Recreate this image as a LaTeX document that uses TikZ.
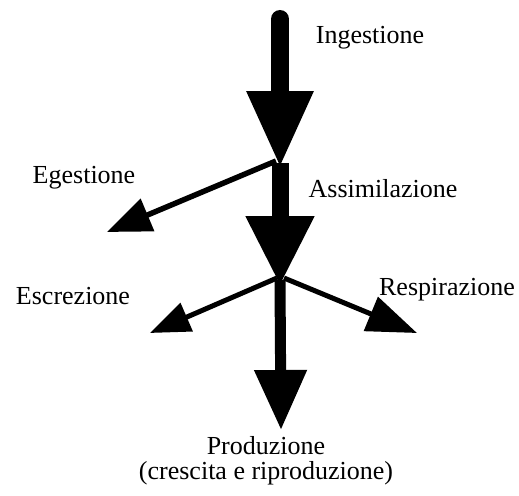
\documentclass[tikz,border=0pt]{standalone}
\usepackage{fontspec}
\setmainfont{Liberation Serif}
\usetikzlibrary{arrows.meta}
\tikzset{
  label/.style={font=\fontsize{26}{25}\selectfont, inner sep=0pt},
  mainflow/.style={draw=black, -{Triangle[length=#1]}},
  sideflow/.style={draw=black, line width=5.5pt, -{Triangle[length=44pt, width=34pt]}}
}
\begin{document}
\begin{tikzpicture}[x=1pt, y=-1pt]
  \useasboundingbox (0,0) rectangle (519,495);

  % branch points
  \coordinate (in) at (280,19);
  \coordinate (j1) at (280,163);
  \coordinate (j2) at (280,280);
  \coordinate (egtip) at (107,232);
  \coordinate (estip) at (150,333);
  \coordinate (retip) at (417,333);
  \coordinate (prtip) at (281,430);

  \node[label] (ing) at (370,38) {Ingestione};
  \node[label] (ass) at (383,189) {Assimilazione};
  \node[label] (ege) at (84,178) {Egestione};
  \node[label] (esc) at (73,296) {Escrezione};
  \node[label] (res) at (447,290) {Respirazione};
  \node[label, align=center] (pro) at (266,461) {Produzione\\(crescita e riproduzione)};

  \draw[mainflow={77pt, width=62pt}, line width=18pt, line cap=round] (in) -- ([yshift=-5pt]j1);
  \draw[mainflow={70pt, width=64pt}, line width=17pt] (j1) -- ([yshift=-6pt]j2);
  \draw[mainflow={60pt, width=50pt}, line width=11pt] (j2) -- (prtip);

  \draw[sideflow] ([xshift=-4pt, yshift=2pt]j1) -- (egtip);
  \draw[sideflow, line width=5pt, -{Triangle[length=40pt, width=30pt]}] ([xshift=-3pt, yshift=2pt]j2) -- (estip);
  \draw[sideflow, line width=5pt, -{Triangle[length=50pt, width=36pt]}] ([xshift=4pt, yshift=2pt]j2) -- (retip);
\end{tikzpicture}
\end{document}
